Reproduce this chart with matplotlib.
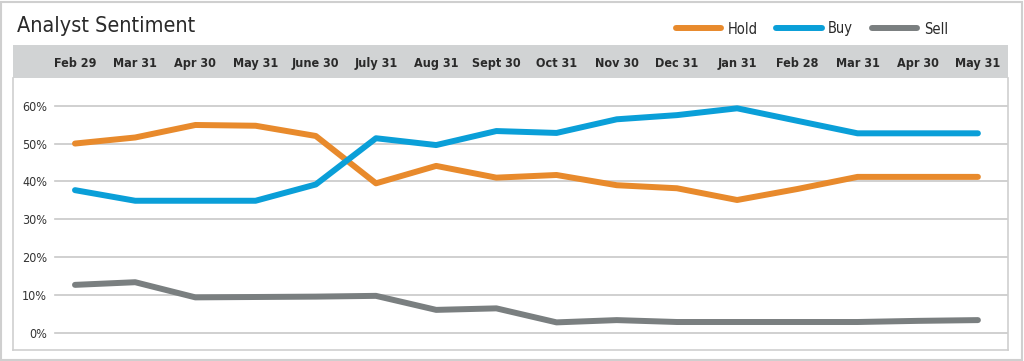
import matplotlib.pyplot as plt
from matplotlib.patches import Rectangle
from matplotlib.lines import Line2D

# 月末ごとのアナリスト評価（%）
months = ["Feb 29", "Mar 31", "Apr 30", "May 31", "June 30", "July 31", "Aug 31", "Sept 30",
          "Oct 31", "Nov 30", "Dec 31", "Jan 31", "Feb 28", "Mar 31", "Apr 30", "May 31"]
hold = [50.0, 51.6, 54.9, 54.7, 52.0, 39.5, 44.1, 41.0, 41.7, 39.0, 38.2, 35.1, 38.0, 41.2, 41.2, 41.2]
buy = [37.7, 34.9, 34.9, 34.9, 39.2, 51.4, 49.6, 53.3, 52.8, 56.4, 57.5, 59.3, 56.0, 52.7, 52.7, 52.7]
sell = [12.7, 13.4, 9.4, 9.5, 9.6, 9.8, 6.1, 6.5, 2.8, 3.4, 2.9, 2.9, 2.9, 2.9, 3.2, 3.4]
yticks = [0, 10, 20, 30, 40, 50, 60]

colors = {"Hold": "#E88A2C", "Buy": "#0A9FD8", "Sell": "#7A7F80"}
cond = dict(family="DejaVu Sans", stretch="condensed")

W, H = 1024, 361
fig = plt.figure(figsize=(W / 100, H / 100), dpi=100)
fig.patch.set_facecolor("white")


def box(x0, y0, x1, y1):
    # ピクセル座標（上基準）を figure 座標に変換
    return [x0 / W, 1 - y1 / H, (x1 - x0) / W, (y1 - y0) / H]


# 外枠
fig.patches.append(Rectangle((1 / W, 1 / H), 1 - 3 / W, 1 - 3 / H, transform=fig.transFigure,
                             fill=False, edgecolor="#CFCFCF", linewidth=1.5))

x = list(range(len(months)))
xlim = (-1.03, 15.5)

# ヘッダー帯（月ラベル）
hdr = fig.add_axes(box(13, 45, 1008, 78))
hdr.set_facecolor("#D1D3D4")
hdr.set_xlim(xlim)
hdr.set_ylim(0, 1)
hdr.set_xticks(x)
hdr.set_xticklabels(months, fontsize=9, fontweight="bold", color="#2A2A2A", va="center", **cond)
hdr.tick_params(axis="x", length=0, pad=-10.5)
hdr.set_yticks([])
for s in hdr.spines.values():
    s.set_visible(False)

# メインのグラフ
ax = fig.add_axes(box(13, 78, 1008, 350))
ax.set_xlim(xlim)
ax.set_ylim(-4.49, 67.3)
for s in ax.spines.values():
    s.set_edgecolor("#CFCFCF")
    s.set_linewidth(1.2)
ax.spines["top"].set_visible(False)
for v in yticks:
    ax.axhline(v, xmin=0.042, xmax=1, color="#C8C8C8", linewidth=1.2, zorder=1)
ax.set_yticks(yticks)
ax.set_yticklabels([f"{v}%" for v in yticks], fontsize=9, color="#333333", **cond)
ax.tick_params(axis="y", length=0, pad=-24.5)
ax.set_xticks([])

for name, vals in [("Hold", hold), ("Buy", buy), ("Sell", sell)]:
    ax.plot(x, vals, color=colors[name], linewidth=4.3, solid_capstyle="round",
            solid_joinstyle="round", zorder=3)

fig.text(17 / W, 1 - 26 / H, "Analyst Sentiment", fontsize=15.5, color="#2A2A2A",
         va="center", ha="left", **cond)

handles = [Line2D([], [], color=colors[n], linewidth=4.3, solid_capstyle="round") for n in colors]
fig.legend(handles, list(colors), loc="center right", bbox_to_anchor=(948 / W, 1 - 29 / H),
           ncol=3, frameon=False, handlelength=3.1, handletextpad=0.45, columnspacing=1.3,
           prop=dict(size=10.5, **cond), labelcolor="#2A2A2A", borderpad=0, borderaxespad=0)

fig.savefig("out.png", dpi=100)
